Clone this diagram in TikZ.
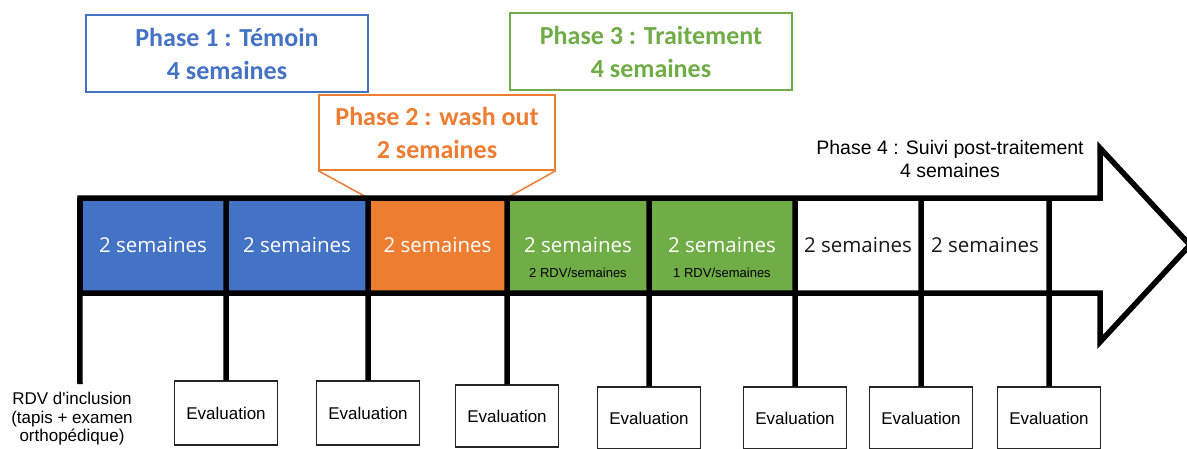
\documentclass[tikz,border=0pt]{standalone}
\usepackage{fontspec}
\setmainfont{Liberation Sans}
\newfontfamily\carlito{Carlito}
\newfontfamily\osans{Open Sans}
\definecolor{pblue}{HTML}{4472C4}
\definecolor{porange}{HTML}{ED7D31}
\definecolor{pgreen}{HTML}{70AD47}
\begin{document}
\begin{tikzpicture}[x=1pt,y=-1pt,
  phasebox/.style={draw=#1, line width=1.5pt, text=#1, font=\carlito\bfseries\fontsize{26}{33}\selectfont, align=center, inner sep=0pt},
  cellbox/.style={minimum height=95pt, inner sep=0pt, font=\osans\fontsize{20.5}{24}\selectfont},
  evalbox/.style={draw=black!85, fill=white, line width=1.2pt, minimum width=103pt, inner sep=0pt, font=\fontsize{17}{20}\selectfont},
  thickline/.style={line width=5.5pt},
  subtext/.style={font=\fontsize{13}{15}\selectfont, text=black, inner sep=0pt}]
\useasboundingbox (0,0) rectangle (1187,448);
\fill[white] (0,0) rectangle (1187,448);

% top phase boxes
\node[phasebox=pblue, minimum width=282pt, minimum height=77pt] (p1) at (227,53.5) {Phase 1 : Témoin\\4 semaines};
\node[phasebox=pgreen, minimum width=282pt, minimum height=77pt] (p3) at (651,51.5) {Phase 3 : Traitement\\4 semaines};
\node[phasebox=porange, minimum width=236pt, minimum height=75pt] (p2) at (437,132.5) {Phase 2 : wash out\\2 semaines};
\node[font=\fontsize{19.5}{23}\selectfont, align=center, inner sep=0pt] (p4) at (950,159.5) {Phase 4 : Suivi post-traitement\\4 semaines};

% timeline cells
\node[cellbox, fill=pblue, text=white, minimum width=146pt] (c1) at (153,245.5) {2 semaines};
\node[cellbox, fill=pblue, text=white, minimum width=142pt] (c2) at (297,245.5) {2 semaines};
\node[cellbox, fill=porange, text=white, minimum width=139pt] (c3) at (437.5,245.5) {2 semaines};
\node[cellbox, fill=pgreen, text=white, minimum width=142pt] (c4) at (578,245.5) {2 semaines};
\node[cellbox, fill=pgreen, text=white, minimum width=146pt] (c5) at (722,245.5) {2 semaines};
\node[cellbox, text=black!90, minimum width=126pt] (c6) at (858,245.5) {2 semaines};
\node[cellbox, text=black!90, minimum width=128pt] (c7) at (985,245.5) {2 semaines};
\node[cellbox, minimum width=51pt] (c8) at (1074.5,245.5) {};
\node[subtext] (r4) at (578,273) {2 RDV/semaines};
\node[subtext] (r5) at (722,273) {1 RDV/semaines};

% callout pointer
\draw[porange, line width=1.5pt] (p2.south west) -- (c3.north west);
\draw[porange, line width=1.5pt] (p2.south east) -- (c3.north east);

% evaluation boxes
\node[evalbox, minimum height=64pt] (e1) at (226,413) {Evaluation};
\node[evalbox, minimum height=64pt] (e2) at (368,413) {Evaluation};
\node[evalbox, minimum height=62pt] (e3) at (507,416) {Evaluation};
\node[evalbox, minimum height=62pt] (e4) at (649,418) {Evaluation};
\node[evalbox, minimum height=62pt] (e5) at (795,418) {Evaluation};
\node[evalbox, minimum height=62pt] (e6) at (921,418) {Evaluation};
\node[evalbox, minimum height=62pt] (e7) at (1049,418) {Evaluation};

\node[font=\fontsize{17}{18.5}\selectfont, align=center, inner sep=0pt] (rdv) at (72,419) {RDV d\textquotesingle inclusion\\(tapis + examen\\orthopédique)};
\coordinate (rdvend) at (80,384);

% arrow outline
\draw[thickline, line join=miter] (80,198) -- (1100,198) -- (1100,148) -- (1190,245) -- (1100,342) -- (1100,293) -- (80,293) -- cycle;

% dividers and connectors
\draw[thickline] (c1.north west) -- (rdvend);
\draw[thickline] (c1.north east) -- (e1.north);
\draw[thickline] (c2.north east) -- (e2.north);
\draw[thickline] (c3.north east) -- (e3.north);
\draw[thickline] (c4.north east) -- (e4.north);
\draw[thickline] (c5.north east) -- (e5.north);
\draw[thickline] (c6.north east) -- (e6.north);
\draw[thickline] (c7.north east) -- (e7.north);
\end{tikzpicture}
\end{document}
